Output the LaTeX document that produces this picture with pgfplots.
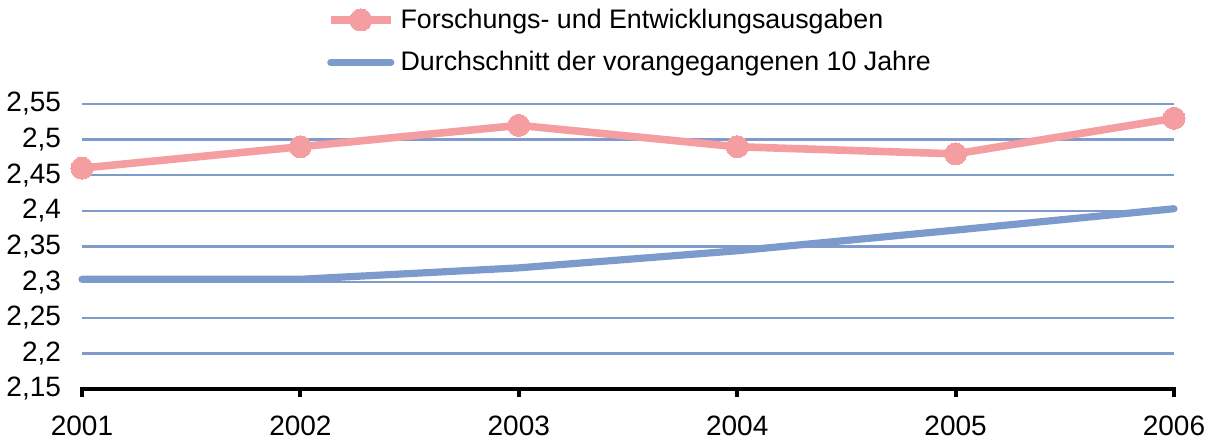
\documentclass[border=0pt]{standalone}
\usepackage{pgfplots}
\pgfplotsset{compat=1.18}
\usepackage{fontspec}
\setmainfont{Liberation Sans}
\usetikzlibrary{calc}
\definecolor{pinkline}{RGB}{244,158,161}
\definecolor{blueline}{RGB}{124,155,204}
\definecolor{gridblue}{RGB}{127,155,203}
\begin{document}
\begin{tikzpicture}
\begin{axis}[
  name=ax,
  scale only axis,
  width=546pt, height=142.5pt,
  xmin=2001, xmax=2006,
  ymin=2.15, ymax=2.55,
  xtick={2001,2002,2003,2004,2005,2006},
  xticklabels={2001,2002,2003,2004,2005,2006},
  ytick={2.15,2.2,2.25,2.3,2.35,2.4,2.45,2.5,2.55},
  yticklabels={{2,15},{2,2},{2,25},{2,3},{2,35},{2,4},{2,45},{2,5},{2,55}},
  axis x line*=bottom,
  axis y line*=left,
  y axis line style={draw=none},
  x axis line style={black, line width=2pt, shorten <=-1pt, shorten >=-1pt},
  ytick style={draw=none},
  xtick style={black, line width=2pt},
  tick align=outside,
  major tick length=4pt,
  ymajorgrids,
  grid style={gridblue, line width=1.2pt},
  tick label style={font=\fontsize{14pt}{16pt}\selectfont},
  yticklabel style={xshift=-3pt},
  xticklabel style={yshift=-6pt},
  clip=false,
  legend style={at={(0.5,1)}, anchor=south, xshift=2pt, yshift=13pt, draw=none, fill=none,
    font=\fontsize{13.4pt}{16pt}\selectfont, row sep=6pt, inner sep=0pt,
    nodes={inner xsep=3pt}},
  legend cell align=left,
  legend image code/.code={\draw[mark repeat=2,mark phase=2,#1] plot coordinates {(0pt,0pt) (15pt,0pt) (30pt,0pt)};},
]
\addplot[pinkline, line width=3.8pt, mark=*, mark size=5.5pt, mark options={solid, fill=pinkline, draw=pinkline, line width=0pt}]
  coordinates {(2001,2.46) (2002,2.49) (2003,2.52) (2004,2.49) (2005,2.48) (2006,2.53)};
\addlegendentry{Forschungs- und Entwicklungsausgaben}
\addplot[blueline, line width=3.6pt, line cap=round]
  coordinates {(2001,2.304) (2002,2.304) (2003,2.32) (2004,2.344) (2005,2.373) (2006,2.403)};
\addlegendentry{Durchschnitt der vorangegangenen 10 Jahre}
\end{axis}
\pgfresetboundingbox
\path[use as bounding box] ($(ax.south west)+(-41pt,-26.5pt)$) rectangle ($(ax.north east)+(18.5pt,52pt)$);
\end{tikzpicture}
\end{document}
